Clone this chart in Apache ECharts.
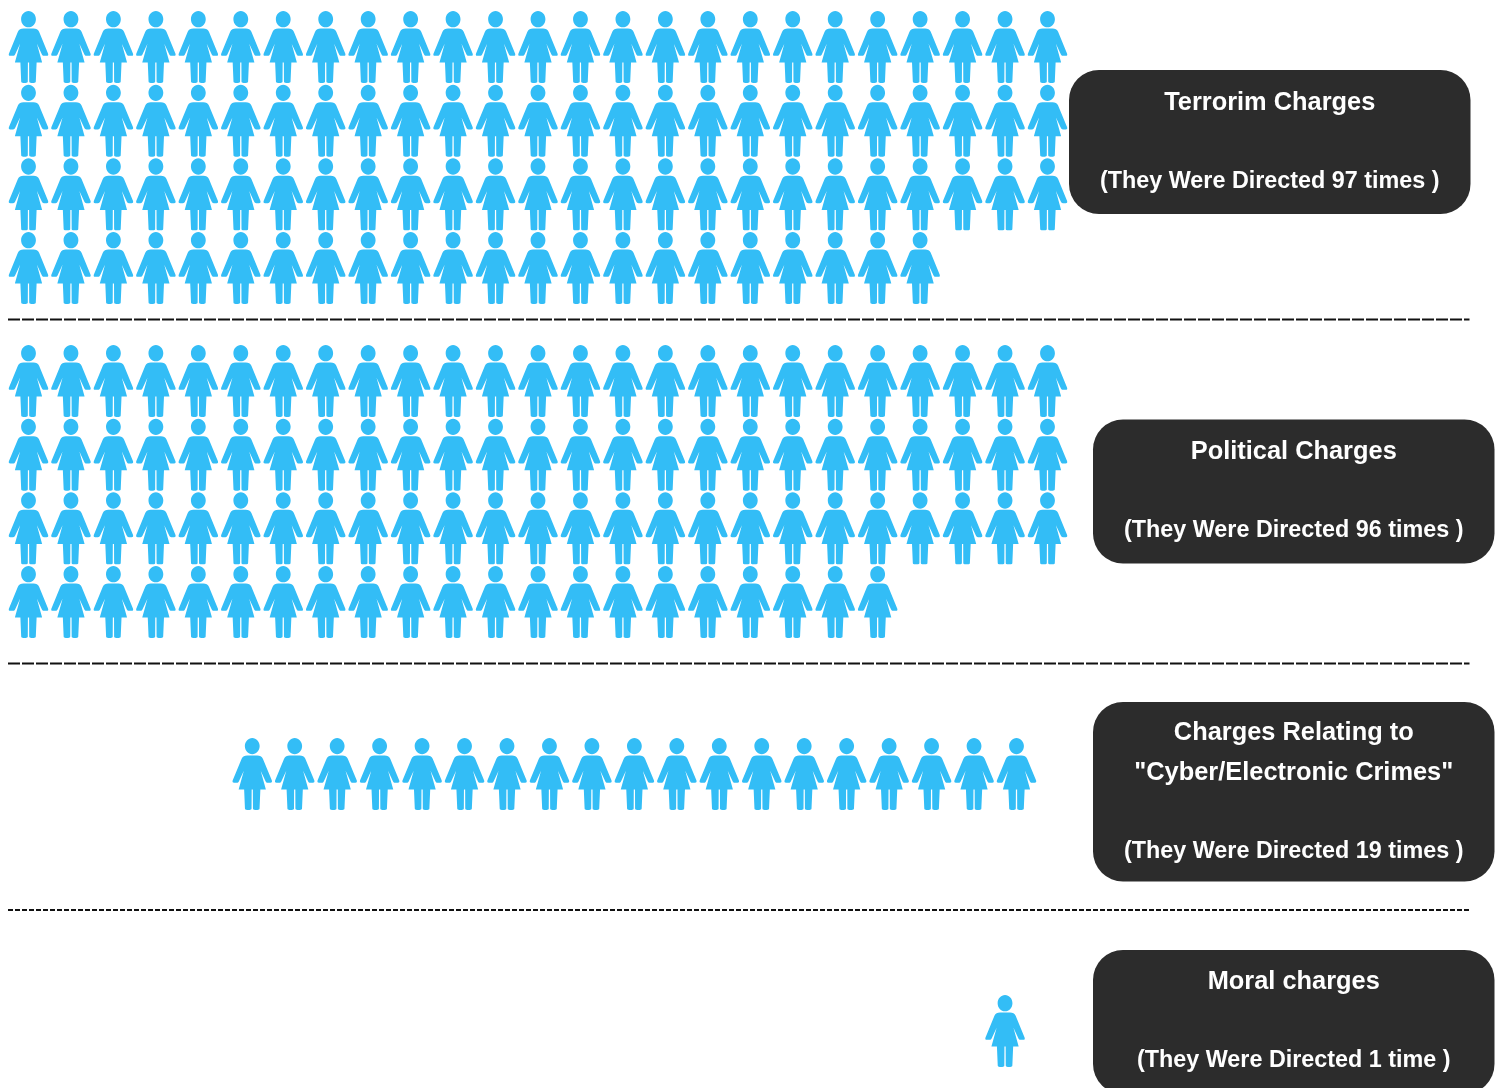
<!DOCTYPE html>
<html>
<head>
<meta charset="utf-8">
<style>html,body{margin:0;padding:0;background:#fff;overflow:hidden}#chart{width:1497px;height:1088px}</style>
<script src="https://cdn.jsdelivr.net/npm/echarts@6/dist/echarts.min.js"></script>
</head>
<body>
<div id="chart"></div>
<script>
// One woman icon stands for one time a charge was directed.
const chargeCounts = [97, 96, 19, 1];
const rowCapacity = 25;
const groupFirstRow = [0, 4.534, 9.868, 13.357];
const groupEndColumn = [null, null, 23.27, 23];

const boxTitles = [
  ['Terrorim Charges'],
  ['Political Charges'],
  ['Charges Relating to', '"Cyber/Electronic Crimes"'],
  ['Moral charges']
];
const boxNotes = [
  '(They Were Directed 97 times )',
  '(They Were Directed 96 times )',
  '(They Were Directed 19 times )',
  '(They Were Directed 1 time )'
];

const WOMAN = 'path://' +
  'M20 -0.6C24.1 -0.6 27.4 3.1 27.4 7.5C27.4 11.9 24.1 15.6 20 15.6C15.9 15.6 12.6 11.9 12.6 7.5C12.6 3.1 15.9 -0.6 20 -0.6Z' +
  'M15 16.8L25 16.8C27.6 16.8 29.6 18 30.6 20L39.6 41.8C40 43.2 39.4 44 38.2 44L35.4 44C34.4 44 33.8 43.4 33.4 42.6L28.4 32' +
  'L33.6 50.7L28.1 50.7L27.3 69.6C27.2 70.7 26.4 71 25.2 71L22.8 71C21.6 71 20.8 70.7 20.7 69.6L20.6 50.7L19.4 50.7' +
  'L19.3 69.6C19.2 70.7 18.4 71 17.2 71L14.8 71C13.6 71 12.8 70.7 12.7 69.6L11.9 50.7L6.4 50.7L11.6 32' +
  'L6.6 42.6C6.2 43.4 5.6 44 4.6 44L1.8 44C0.6 44 0 43.2 0.4 41.8L9.4 20C10.4 18 12.4 16.8 15 16.8Z';

// Lay each group out row by row; short single rows are right aligned to their own end column.
const points = [];
chargeCounts.forEach((count, g) => {
  const end = groupEndColumn[g];
  for (let i = 0; i < count; i++) {
    const col = end === null ? i % rowCapacity : end - (count - 1) + i;
    const row = groupFirstRow[g] + Math.floor(i / rowCapacity);
    points.push([col, row]);
  }
});

const boxes = [
  { x: 1069, y: 70, h: 144, titleY: [102.5], noteY: 181.5 },
  { x: 1093, y: 419.5, h: 144, titleY: [451.5], noteY: 530.5 },
  { x: 1093, y: 702, h: 179.5, titleY: [732.5, 772.5], noteY: 851.5 },
  { x: 1093, y: 950, h: 144, titleY: [981.5], noteY: 1060.5 }
];
const BOX_W = 401.5;
const FONT = '"Liberation Sans", Arial, sans-serif';
const titleStyle = { fill: '#fff', fontFamily: FONT, fontWeight: 'bold', fontSize: 25.4, align: 'center', verticalAlign: 'middle' };
const noteStyle = { ...titleStyle, fontSize: 23.35 };

const graphics = [];
boxes.forEach((b, i) => {
  const cx = b.x + BOX_W / 2;
  graphics.push({ type: 'rect', shape: { x: b.x, y: b.y, width: BOX_W, height: b.h, r: 30 }, style: { fill: '#2c2c2c' } });
  boxTitles[i].forEach((t, j) => graphics.push({ type: 'text', x: cx, y: b.titleY[j], style: { ...titleStyle, text: t } }));
  graphics.push({ type: 'text', x: cx, y: b.noteY, style: { ...noteStyle, text: boxNotes[i] } });
});

// Separators between the groups.
[[319.5, [12, 2]], [663.5, [12, 2]], [910, [5, 2]]].forEach(([y, dash]) => {
  graphics.push({
    type: 'line',
    shape: { x1: 8, y1: y, x2: 1469.5, y2: y },
    style: { stroke: '#111', lineWidth: 2, lineDash: dash }
  });
});

const chart = echarts.init(document.getElementById('chart'), null, { renderer: 'canvas' });
chart.setOption({
  animation: false,
  backgroundColor: '#fff',
  grid: { left: 28.5, top: 47, width: 1019, height: 984 },
  xAxis: { type: 'value', min: 0, max: 24, show: false },
  yAxis: { type: 'value', min: 0, max: 13.357, inverse: true, show: false },
  graphic: graphics,
  series: [{
    type: 'scatter',
    data: points,
    symbol: WOMAN,
    symbolSize: [39.5, 72],
    itemStyle: { color: '#33bdf6', opacity: 1 },
    clip: false,
    silent: true
  }]
});
</script>
</body>
</html>
